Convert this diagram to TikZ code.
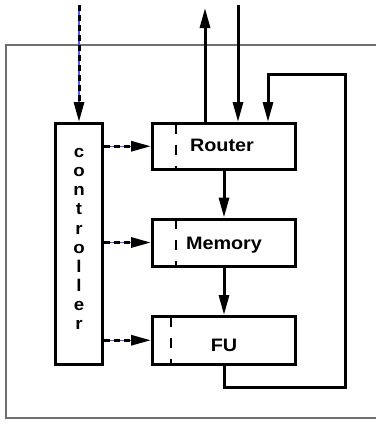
\documentclass[tikz,border=0pt]{standalone}
\usepackage{fontspec}
\setmainfont{Liberation Sans}[FakeStretch=1.1]
\usetikzlibrary{arrows.meta}
\definecolor{framegray}{RGB}{110,110,110}
\definecolor{sigblue}{RGB}{80,80,255}
\begin{document}
\begin{tikzpicture}[x=1pt,y=-1pt,
  box/.style={draw,line width=3pt,inner sep=0pt,outer sep=1.5pt},
  lbl/.style={font=\fontsize{18}{21}\bfseries\selectfont,anchor=base,inner sep=0pt},
  lblv/.style={font=\fontsize{17}{20}\bfseries\selectfont,anchor=base,inner sep=0pt},
  flow/.style={line width=3pt,-{Triangle[length=20pt,width=10pt]}},
  ctl/.style={line width=3pt,dash pattern=on 6pt off 4pt,-{Triangle[length=20pt,width=10pt]}},
  wire/.style={sigblue,line width=1.2pt,shorten >=18pt},
  innerdash/.style={line width=2.5pt,dash pattern=on 10pt off 11pt}]
\useasboundingbox (0,0) rectangle (376,423);
% frame
\draw[framegray,line width=1.6pt] (376,45) -- (6,45) -- (6,418) -- (376,418);
% boxes
\node[box,minimum width=47pt,minimum height=240.5pt] (ctrl) at (79,243.75) {};
\node[box,minimum width=143pt,minimum height=45.5pt] (router) at (224,146.25) {};
\node[box,minimum width=143pt,minimum height=47pt] (memory) at (224,242.5) {};
\node[box,minimum width=143pt,minimum height=47.5pt] (fu) at (224,340.25) {};
% labels
\node[lbl] (rt) at (222,151.7) {Router};
\node[lbl] (mt) at (224,249.3) {Memory};
\node[lbl] (ft) at (224,351) {FU};
\foreach \ch [count=\i from 0] in {c,o,n,t,r,o,l,l,e,r}
  \node[lblv] (cl\i) at (79,{157.6+19.1*\i}) {\ch};
% inner dashed separators
\coordinate (rd) at (176,0);
\coordinate (fd) at (171,0);
\draw[innerdash] ([yshift=-1.5pt]rd |- router.north) -- (rd |- router.south);
\draw[innerdash] ([yshift=-1.5pt]rd |- memory.north) -- (rd |- memory.south);
\draw[innerdash] ([yshift=-1.5pt]fd |- fu.north) -- (fd |- fu.south);
% controller input
\coordinate (cin) at (79,5);
\draw[wire] (cin) -- (cin |- ctrl.north);
\draw[ctl] (cin) -- (cin |- ctrl.north);
% controller to units
\draw[wire] (ctrl.east |- router.west) -- (router.west);
\draw[ctl] (ctrl.east |- router.west) -- (router.west);
\draw[wire] (ctrl.east |- memory.west) -- (memory.west);
\draw[ctl] (ctrl.east |- memory.west) -- (memory.west);
\draw[wire] (ctrl.east |- fu.west) -- (fu.west);
\draw[ctl] (ctrl.east |- fu.west) -- (fu.west);
% router external
\coordinate (rout) at (205,8);
\coordinate (rin) at (238,5);
\draw[flow] (rout |- router.north) -- (rout);
\draw[flow] (rin) -- (rin |- router.north);
% pipeline
\draw[flow] (router.south) -- (memory.north);
\draw[flow] (memory.south) -- (fu.north);
% feedback
\coordinate (fb1) at (345,387.5);
\coordinate (fb2) at (268,74);
\draw[flow] (fu.south) |- (fb1) |- (fb2) -- (fb2 |- router.north);
\end{tikzpicture}
\end{document}
